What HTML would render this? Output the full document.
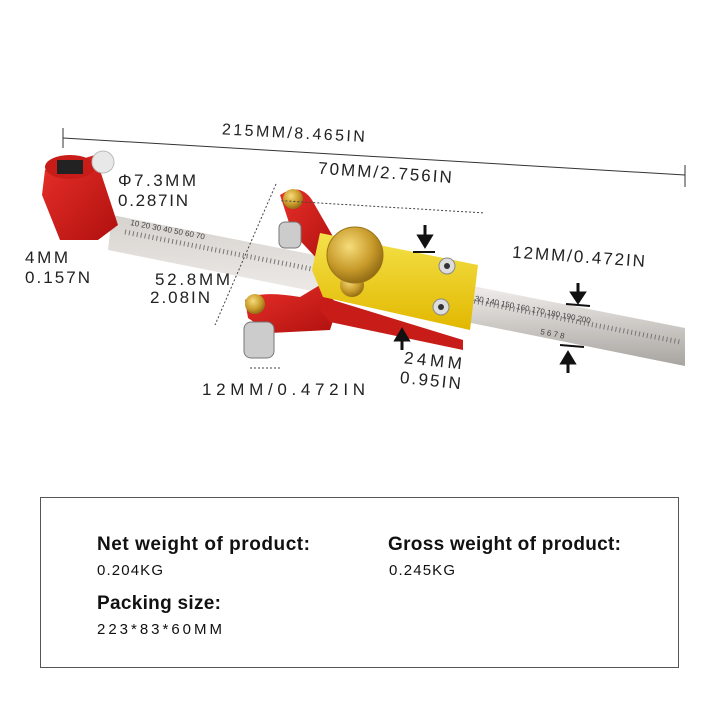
<!DOCTYPE html>
<html><head><meta charset="utf-8"><style>
body{margin:0;background:#fff;width:720px;height:720px;overflow:hidden;font-family:"Liberation Sans",sans-serif}
</style></head><body>
<svg width="720" height="720" viewBox="0 0 720 720" xmlns="http://www.w3.org/2000/svg" font-family="Liberation Sans, sans-serif">
<defs>
<linearGradient id="rul" x1="0" y1="0" x2="0" y2="1"><stop offset="0" stop-color="#d6d2ce"/><stop offset="0.5" stop-color="#ece9e6"/><stop offset="1" stop-color="#a8a4a0"/></linearGradient>
<radialGradient id="brass" cx="0.4" cy="0.35" r="0.7"><stop offset="0" stop-color="#f6dc7a"/><stop offset="0.6" stop-color="#c89a2a"/><stop offset="1" stop-color="#8a6512"/></radialGradient>
<linearGradient id="red" x1="0" y1="0" x2="1" y2="1"><stop offset="0" stop-color="#e8302a"/><stop offset="1" stop-color="#b0100e"/></linearGradient>
<linearGradient id="yel" x1="0" y1="0" x2="0" y2="1"><stop offset="0" stop-color="#f4e24a"/><stop offset="1" stop-color="#e2b800"/></linearGradient>
</defs>
<line x1="63" y1="138" x2="685" y2="175" stroke="#333" stroke-width="1"/>
<line x1="63" y1="128" x2="63" y2="148" stroke="#333"/><line x1="685" y1="165" x2="685" y2="187" stroke="#333"/>
<text x="222" y="138" font-size="16" fill="#222" textLength="143" transform="rotate(3 290 132)">215MM/8.465IN</text>
<polygon points="112,215 685,328 685,366 108,250" fill="url(#rul)"/>
<path d="M125,232 L680,342" stroke="#777" stroke-width="5" stroke-dasharray="1 3"/>
<g fill="#444" font-size="8">
<text x="470" y="300" transform="rotate(11 470 300)">130  140  150  160  170  180  190  200</text>
<text x="540" y="334" transform="rotate(11 540 334)">5            6           7          8</text>
<text x="130" y="225" transform="rotate(11 130 225)">10    20    30    40    50    60    70</text>
</g>
<polygon points="45,170 95,155 118,225 98,240 60,240 42,195" fill="url(#red)"/>
<ellipse cx="70" cy="167" rx="25" ry="12" fill="#c81c18"/>
<rect x="57" y="160" width="26" height="14" fill="#222"/>
<circle cx="103" cy="162" r="11" fill="#e8e8e8" stroke="#bbb"/>
<path d="M280,195 Q300,182 312,200 L335,240 L320,262 L292,232 Z" fill="url(#red)"/>
<rect x="279" y="222" width="22" height="26" rx="6" fill="#ccc" stroke="#777"/>
<circle cx="293" cy="199" r="10" fill="url(#brass)"/>
<path d="M245,300 Q258,290 300,297 L320,285 L338,305 L330,330 L270,333 L248,318 Z" fill="url(#red)"/>
<rect x="244" y="322" width="30" height="36" rx="7" fill="#ccc" stroke="#777"/>
<circle cx="255" cy="304" r="10" fill="url(#brass)"/>
<polygon points="323,297 463,340 463,350 330,322 320,310" fill="#c81c18"/>
<polygon points="320,233 478,265 470,330 323,297 312,270" fill="url(#yel)"/>
<circle cx="447" cy="266" r="8" fill="#ddd" stroke="#888"/><circle cx="447" cy="266" r="3" fill="#333"/>
<circle cx="441" cy="307" r="8" fill="#ddd" stroke="#888"/><circle cx="441" cy="307" r="3" fill="#333"/>
<circle cx="352" cy="285" r="12" fill="url(#brass)"/>
<circle cx="355" cy="255" r="28" fill="url(#brass)" stroke="#9a7418"/>
<line x1="276" y1="184" x2="215" y2="325" stroke="#444" stroke-dasharray="2 2"/>
<line x1="282" y1="211" x2="485" y2="202" stroke="#444" stroke-dasharray="2 2" transform="rotate(6 380 200)"/>
<line x1="250" y1="368" x2="282" y2="368" stroke="#444" stroke-dasharray="2 2"/>
<line x1="413" y1="252" x2="435" y2="252" stroke="#111" stroke-width="2"/>
<path d="M425,225 L425,240 M419,236 L425,246 L431,236Z" stroke="#111" stroke-width="3" fill="#111"/>
<path d="M402,350 L402,337 M396,340 L402,330 L408,340Z" stroke="#111" stroke-width="3" fill="#111"/>
<path d="M578,283 L578,296 M572,293 L578,302 L584,293Z" stroke="#111" stroke-width="3" fill="#111"/>
<line x1="566" y1="304" x2="590" y2="306" stroke="#111" stroke-width="2"/>
<line x1="560" y1="345" x2="584" y2="347" stroke="#111" stroke-width="2"/>
<path d="M568,373 L568,360 M562,363 L568,353 L574,363Z" stroke="#111" stroke-width="3" fill="#111"/>
<g font-size="17" fill="#222">
<text x="118" y="186" textLength="78">Φ7.3MM</text><text x="118" y="206" textLength="70">0.287IN</text>
<text x="25" y="263" textLength="43">4MM</text><text x="25" y="283" textLength="65">0.157N</text>
<text x="155" y="285" textLength="75">52.8MM</text><text x="150" y="303" textLength="60">2.08IN</text>
<text x="318" y="178" textLength="134" transform="rotate(4 380 172)">70MM/2.756IN</text>
<text x="512" y="262" textLength="133" transform="rotate(4 575 258)">12MM/0.472IN</text>
<text x="202" y="395" textLength="163">12MM/0.472IN</text>
<text x="403" y="366" textLength="58" transform="rotate(6 430 370)">24MM</text><text x="400" y="386" textLength="61" transform="rotate(6 430 380)">0.95IN</text>
</g>
<rect x="40.5" y="497.5" width="638" height="170" fill="none" stroke="#555" stroke-width="1"/>
<g fill="#111">
<text x="97" y="550" font-size="19" font-weight="bold" textLength="213">Net weight of product:</text>
<text x="97" y="575" font-size="15" textLength="66">0.204KG</text>
<text x="388" y="550" font-size="19" font-weight="bold" textLength="233">Gross weight of product:</text>
<text x="389" y="575" font-size="15" textLength="66">0.245KG</text>
<text x="97" y="609" font-size="19" font-weight="bold" textLength="124">Packing size:</text>
<text x="97" y="634" font-size="15" textLength="125">223*83*60MM</text>
</g>
</svg>
</body></html>
